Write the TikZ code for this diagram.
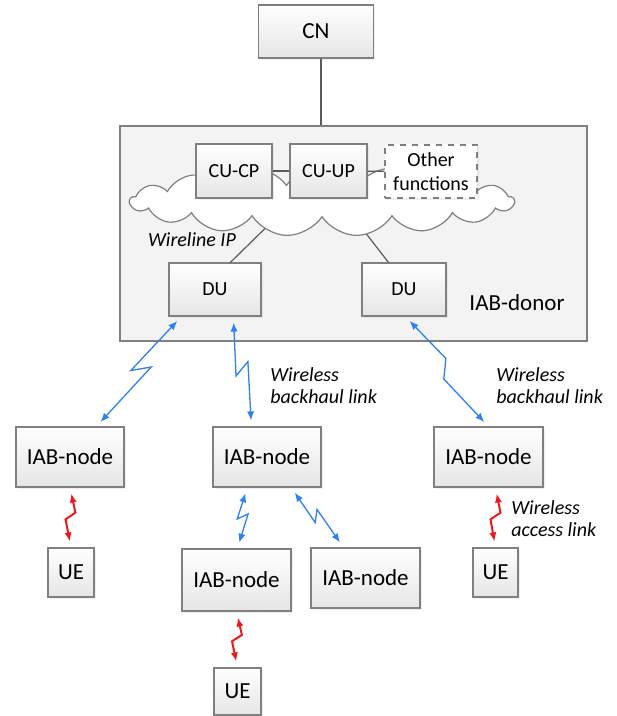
\documentclass[tikz,border=0pt]{standalone}
\usepackage{fontspec}
\setmainfont{Carlito}
\usetikzlibrary{arrows.meta,positioning,calc,shapes.symbols,shadows}

\definecolor{linkblue}{RGB}{45,128,245}
\definecolor{linkred}{RGB}{240,25,25}
\definecolor{donorfill}{RGB}{243,243,243}
\definecolor{wiregray}{RGB}{90,90,90}

\tikzset{
  box/.style={draw=gray, line width=0.6pt, top color=white, bottom color=gray!20, inner sep=0pt,
    drop shadow={opacity=0.12, shadow xshift=0.8pt, shadow yshift=-0.8pt},
    font=\fontsize{11.5}{13}\selectfont},
  smallbox/.style={box, font=\fontsize{10}{12}\selectfont},
  lbl/.style={inner sep=0pt, align=left, font=\itshape\fontsize{10}{11}\selectfont},
  wire/.style={draw=wiregray, line width=0.6pt},
  bolt/.style={to path={-- ($(\tikztostart)!0.53!(\tikztotarget)!#1!-90:(\tikztotarget)$)
      -- ($(\tikztostart)!0.42!(\tikztotarget)!#1!90:(\tikztotarget)$) -- (\tikztotarget) \tikztonodes}},
  bolt/.default=3.5pt,
  bolt'/.style={to path={-- ($(\tikztostart)!0.42!(\tikztotarget)!#1!90:(\tikztotarget)$)
      -- ($(\tikztostart)!0.53!(\tikztotarget)!#1!-90:(\tikztotarget)$) -- (\tikztotarget) \tikztonodes}},
  bolt'/.default=3.5pt,
  backhaul/.style={draw=linkblue, line width=0.65pt,
    arrows={Latex[length=4.5pt,width=3.6pt]-Latex[length=4.5pt,width=3.6pt]},
    shorten <=3pt, shorten >=3pt},
  access/.style={backhaul, draw=linkred, line width=1pt}
}

\begin{document}
\begin{tikzpicture}[x=0.5pt, y=-0.5pt]
  \useasboundingbox (0,0) rectangle (616,716);

  % core network and donor
  \node[box, minimum width=57.5pt, minimum height=26.5pt] (cn) at (316,31.5) {CN};
  \node[draw=gray, line width=0.6pt, fill=donorfill, minimum width=233.5pt, minimum height=107.5pt] (donor) at (353.5,233.5) {};
  \draw[wire] ([xshift=2.5pt]cn.south) -- ([xshift=2.5pt]cn.south |- donor.north);

  \node[smallbox, minimum width=46pt, minimum height=26.5pt] (du1) at (215,289.5) {DU};
  \node[smallbox, minimum width=42pt, minimum height=26.5pt] (du2) at (404,289.5) {DU};
  \coordinate (ipa) at (291,203);
  \coordinate (ipb) at (342.5,203);
  \draw[wire] ([xshift=31pt]du1.north west) -- (ipa);
  \draw[wire] ([xshift=13.5pt]du2.north west) -- (ipb);

  \node[cloud, cloud puffs=17, cloud puff arc=115, cloud ignores aspect, draw=gray, line width=0.6pt,
        fill=white, minimum width=192pt, minimum height=35pt] (ip) at (322,201) {};

  \node[smallbox, minimum width=38pt, minimum height=27pt] (cucp) at (234,171) {CU-CP};
  \node[smallbox, minimum width=38.5pt, minimum height=27pt] (cuup) at (328.5,171) {CU-UP};
  \node[smallbox, dashed, drop shadow={opacity=0}, top color=white, bottom color=white, align=center,
        minimum width=46pt, minimum height=26.5pt] (other) at (431,171.5) {Other\\functions};
  \draw[wire] (cucp) -- (cuup);
  \draw[wire] (cuup) -- (other);

  \node[lbl] (wllbl) at (192,240) {Wireline IP};
  \node[inner sep=0pt, font=\fontsize{11.5}{13}\selectfont] (donorlbl) at (517,303) {IAB-donor};

  % IAB nodes and UEs
  \node[box, minimum width=54pt, minimum height=30pt] (iabL) at (70,457) {IAB-node};
  \node[box, minimum width=54pt, minimum height=30pt] (iabM) at (267,457) {IAB-node};
  \node[box, minimum width=54.5pt, minimum height=30pt] (iabR) at (488.5,457) {IAB-node};
  \node[box, minimum width=23pt, minimum height=24.5pt] (ueL) [below=57.75pt of iabL.center, anchor=center, xshift=0.5pt] {UE};
  \node[box, minimum width=54.5pt, minimum height=31pt] (iabD) at (236.5,580) {IAB-node};
  \node[box, minimum width=54.5pt, minimum height=30pt] (iabE) at (365.5,578) {IAB-node};
  \node[box, minimum width=22.5pt, minimum height=24.5pt] (ueR) at (495.5,572.5) {UE};
  \node[box, minimum width=23.5pt, minimum height=23.5pt] (ueB) at (237.5,691.5) {UE};

  % wireless links
  \draw[backhaul] ([xshift=6.5pt]du1.south west) to[bolt] ([xshift=40.5pt]iabL.north west);
  \draw[backhaul] ([xshift=32.5pt]du1.south west) to[bolt] ([xshift=19.5pt]iabM.north west);
  \draw[backhaul] ([xshift=22pt]du2.south west) to[bolt'] ([xshift=27.5pt]iabR.north west);
  \draw[backhaul] ([xshift=17.5pt]iabM.south west) to[bolt=2.5pt] ([xshift=28pt]iabD.north west);
  \draw[backhaul] ([xshift=39.5pt]iabM.south west) to[bolt=2.5pt] ([xshift=16.5pt]iabE.north west);
  \draw[access] (iabL.south) to[bolt'=2.5pt] (ueL.north);
  \draw[access] (iabD.south) to[bolt'=2.5pt] (ueB.north);
  \draw[access] ([xshift=3.5pt]iabR.south) to[bolt'=2.5pt] (ueR.north);

  \node[lbl, anchor=west] (bhlbl1) at (270,386) {Wireless\\backhaul link};
  \node[lbl, anchor=west] (bhlbl2) at (496,386) {Wireless\\backhaul link};
  \node[lbl, anchor=west] (aclbl) at (511,519) {Wireless\\access link};
\end{tikzpicture}
\end{document}
